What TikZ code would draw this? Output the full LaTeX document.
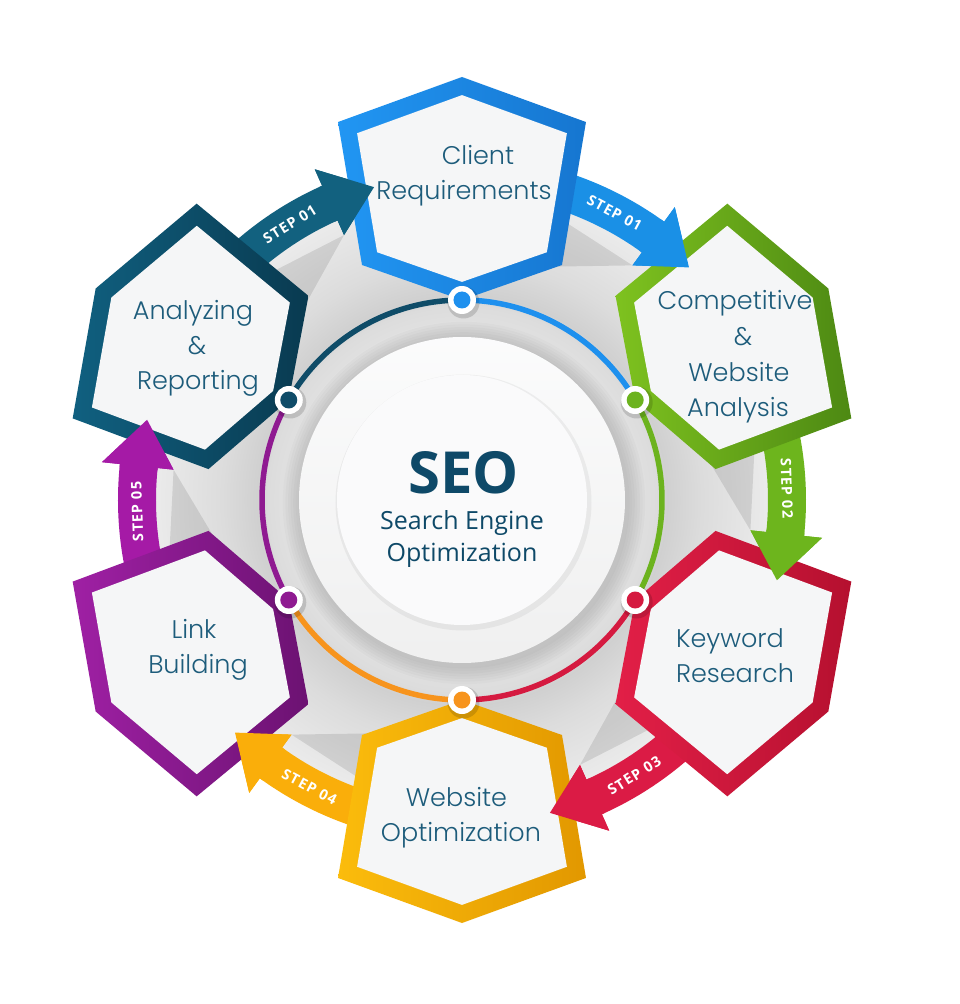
\documentclass[tikz,border=0pt]{standalone}
\usepackage{fontspec}
\newfontfamily\hexfont{Poppins Light}
\newfontfamily\seofont{Open Sans}
\newfontfamily\stepfont{Open Sans}[LetterSpace=8]
\definecolor{hexfill}{HTML}{F5F6F7}
\definecolor{labelC}{HTML}{1D5C7B}
\definecolor{seoC}{HTML}{0E4968}
\definecolor{blueL}{HTML}{2196F3}\definecolor{blueR}{HTML}{1676D0}
\definecolor{greenL}{HTML}{7EC21F}\definecolor{greenR}{HTML}{4D8913}
\definecolor{redL}{HTML}{E21F47}\definecolor{redR}{HTML}{B5102F}
\definecolor{yelL}{HTML}{FBBC0C}\definecolor{yelR}{HTML}{E29800}
\definecolor{purL}{HTML}{9F20A4}\definecolor{purR}{HTML}{6C1272}
\definecolor{tealL}{HTML}{106080}\definecolor{tealR}{HTML}{093A50}
\definecolor{arrTeal}{HTML}{12617F}
\definecolor{arrBlue}{HTML}{1A90E6}
\definecolor{arrGreen}{HTML}{6DB51D}
\definecolor{arrRed}{HTML}{DB1B45}
\definecolor{arrYel}{HTML}{FAAE0A}
\definecolor{arrPur}{HTML}{A51AA6}
\definecolor{ringBlue}{HTML}{1E90EE}
\definecolor{ringGreen}{HTML}{6CB31E}
\definecolor{ringRed}{HTML}{D51A40}
\definecolor{ringOrange}{HTML}{F7941D}
\definecolor{ringPurple}{HTML}{8F1A91}
\definecolor{ringTeal}{HTML}{0F4C68}
\definecolor{bgA}{HTML}{E4E4E4}
\definecolor{bgB}{HTML}{DCDCDC}
\definecolor{bgC}{HTML}{D0D0D0}
\definecolor{bgD}{HTML}{DCDCDC}
\definecolor{bgE}{HTML}{E9E9E9}
\definecolor{bgF}{HTML}{EEEEEE}
\pgfdeclareradialshading{ringshade}{\pgfpoint{0bp}{0bp}}{color(0bp)=(bgA); color(12.5bp)=(bgA); color(15.2bp)=(bgB); color(16bp)=(bgC); color(18.75bp)=(bgD); color(23.4bp)=(bgE); color(25bp)=(bgF); color(50bp)=(bgF)}
\newcommand\hexshape[3]{%
  \shade[left color=#2, right color=#3] (#1:423) -- ({#1+18.16}:397.8) -- ({#1+23.05}:255.4) -- (#1:200) -- ({#1-23.05}:255.4) -- ({#1-18.16}:397.8) -- cycle;
  \fill[hexfill] (#1:404.9) -- ({#1+15.96}:381.5) -- ({#1+18.91}:261.9) -- (#1:218.1) -- ({#1-18.91}:261.9) -- ({#1-15.96}:381.5) -- cycle;
}
\newcommand\steparrow[2]{%
  \fill[#2] ({#1+52}:344) arc[start angle={#1+52}, end angle={#1+24}, radius=344] -- ({#1+24}:362) -- ({#1+15.7}:325) -- ({#1+24}:290) -- ({#1+24}:306) arc[start angle={#1+24}, end angle={#1+52}, radius=306] -- cycle;
}
\newcommand\stephead[2]{%
  \fill[#2] ({#1+24.6}:306) -- ({#1+24}:306) -- ({#1+24}:290) -- ({#1+15.7}:325) -- ({#1+24}:362) -- ({#1+24}:344) -- ({#1+24.6}:344) -- cycle;
}
\newcommand\stepshadow[1]{%
  \fill[black, opacity=0.10] ({#1+24}:290) -- ({#1+46}:306) -- ({#1+46}:240) -- cycle;
}
\newcommand\ringdot[2]{%
  \fill[black, opacity=0.14, shift={(1.5,-2.5)}] (#1:200) circle (16);
  \fill[white] (#1:200) circle (14);
  \fill[#2] (#1:200) circle (8.5);
}
\tikzset{
  hexlabel/.style={font=\hexfont\fontsize{25.5}{30}\selectfont, text=labelC, inner sep=0pt, anchor=base},
  steplabel/.style={font=\stepfont\bfseries\fontsize{14.5}{14.5}\selectfont, text=white, inner sep=0pt},
  ringarc/.style={line width=5.5}
}
\begin{document}
\begin{tikzpicture}[x=1pt, y=1pt]
\useasboundingbox (-462,-504) rectangle (498,500);
\fill[white] (-462,-504) rectangle (498,500);
% background gray ring
\shade[shading=ringshade] (0,0) circle (320);
% fold shadows
\stepshadow{90}\stepshadow{30}\stepshadow{-30}\stepshadow{-90}\stepshadow{-150}\stepshadow{150}
% arrows (bands)
\steparrow{90}{arrTeal}
\steparrow{30}{arrBlue}
\steparrow{-30}{arrGreen}
\steparrow{-90}{arrRed}
\steparrow{-150}{arrYel}
\steparrow{150}{arrPur}
% hexagons
\hexshape{90}{blueL}{blueR}
\hexshape{30}{greenL}{greenR}
\hexshape{-30}{redL}{redR}
\hexshape{-90}{yelL}{yelR}
\hexshape{-150}{purL}{purR}
\hexshape{150}{tealL}{tealR}
% arrow heads on top
\stephead{90}{arrTeal}
\stephead{30}{arrBlue}
\stephead{-30}{arrGreen}
\stephead{-90}{arrRed}
\stephead{-150}{arrYel}
\stephead{150}{arrPur}
% step labels
\node[steplabel, rotate=32] (s1) at (122:325) {STEP 01};
\node[steplabel, rotate=-28] (s2) at (62:325) {STEP 01};
\node[steplabel, rotate=-88] (s3) at (2:325) {STEP 02};
\node[steplabel, rotate=32] (s4) at (-58:325) {STEP 03};
\node[steplabel, rotate=-28] (s5) at (-118:325) {STEP 04};
\node[steplabel, rotate=92] (s6) at (182:325) {STEP 05};
% central discs
\foreach \i in {1,...,7}{\fill[black, opacity=0.02] (2,-3) circle ({163+\i*2.6});}
\shade[top color=white!60!hexfill, bottom color=black!6] (0,0) circle (163);
\fill[black, opacity=0.05] (1.5,-2.5) circle (128);
\fill[white!50!hexfill] (0,0) circle (125);
% ring arcs
\draw[ringarc, ringBlue] (90:200) arc[start angle=90, end angle=30, radius=200];
\draw[ringarc, ringGreen] (30:200) arc[start angle=30, end angle=-30, radius=200];
\draw[ringarc, ringRed] (-30:200) arc[start angle=-30, end angle=-90, radius=200];
\draw[ringarc, ringOrange] (-90:200) arc[start angle=-90, end angle=-150, radius=200];
\draw[ringarc, ringPurple] (-150:200) arc[start angle=-150, end angle=-210, radius=200];
\draw[ringarc, ringTeal] (150:200) arc[start angle=150, end angle=90, radius=200];
% dots
\ringdot{90}{ringBlue}
\ringdot{30}{ringGreen}
\ringdot{-30}{ringRed}
\ringdot{-90}{ringOrange}
\ringdot{-150}{ringPurple}
\ringdot{150}{ringTeal}
% labels
\node[hexlabel] (c1) at (16,335) {Client};
\node[hexlabel] (c2) at (2,300) {Requirements};
\node[hexlabel] (g1) at (273,190) {Competitive};
\node[hexlabel] (g2) at (281,154) {\&};
\node[hexlabel] (g3) at (277,118) {Website};
\node[hexlabel] (g4) at (276,83) {Analysis};
\node[hexlabel] (r1) at (268,-147) {Keyword};
\node[hexlabel] (r2) at (273,-182) {Research};
\node[hexlabel] (y1) at (-5.5,-306.7) {Website};
\node[hexlabel] (y2) at (-1,-341.7) {Optimization};
\node[hexlabel] (p1) at (-268,-138) {Link};
\node[hexlabel] (p2) at (-264,-173) {Building};
\node[hexlabel] (t1) at (-269,180) {Analyzing};
\node[hexlabel] (t2) at (-265,145) {\&};
\node[hexlabel] (t3) at (-264,110) {Reporting};
% center text
\node[font=\seofont\bfseries\fontsize{58}{60}\selectfont, text=seoC, inner sep=0pt, anchor=base] (seo) at (1.5,7) {SEO};
\node[font=\seofont\fontsize{25}{28}\selectfont, text=seoC, inner sep=0pt, anchor=base] (se) at (0,-29) {Search Engine};
\node[font=\seofont\fontsize{25}{28}\selectfont, text=seoC, inner sep=0pt, anchor=base] (opt) at (0,-61.7) {Optimization};
\end{tikzpicture}
\end{document}
